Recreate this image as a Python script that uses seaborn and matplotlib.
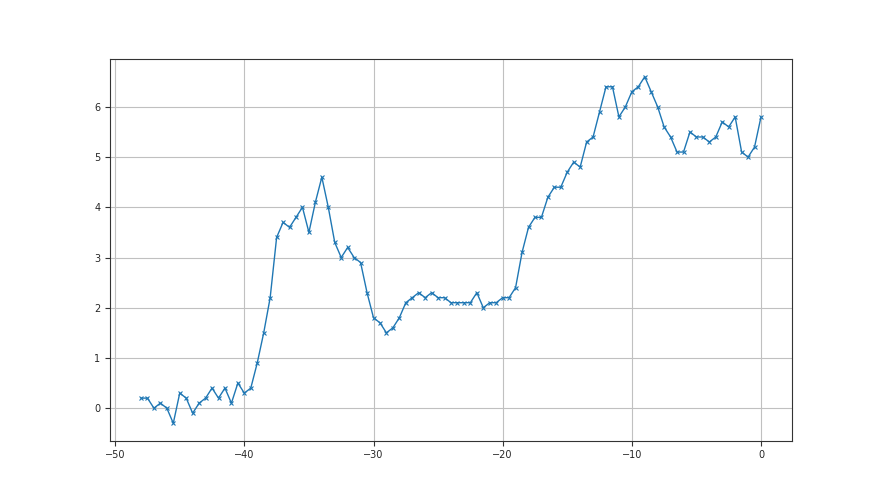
import matplotlib
matplotlib.use("Agg")
import matplotlib.pyplot as plt
import seaborn as sns
import pandas as pd

# x positions: -48 to 0 in steps of 0.5
x_vals = [-48 + 0.5 * i for i in range(97)]

y_vals = [
    0.2, 0.2, 0.0, 0.1, 0.0, -0.3, 0.3, 0.2, -0.1, 0.1,
    0.2, 0.4, 0.2, 0.4, 0.1, 0.5, 0.3, 0.4, 0.9, 1.5,
    2.2, 3.4, 3.7, 3.6, 3.8, 4.0, 3.5, 4.1, 4.6, 4.0,
    3.3, 3.0, 3.2, 3.0, 2.9, 2.3, 1.8, 1.7, 1.5, 1.6,
    1.8, 2.1, 2.2, 2.3, 2.2, 2.3, 2.2, 2.2, 2.1, 2.1,
    2.1, 2.1, 2.3, 2.0, 2.1, 2.1, 2.2, 2.2, 2.4, 3.1,
    3.6, 3.8, 3.8, 4.2, 4.4, 4.4, 4.7, 4.9, 4.8, 5.3,
    5.4, 5.9, 6.4, 6.4, 5.8, 6.0, 6.3, 6.4, 6.6, 6.3,
    6.0, 5.6, 5.4, 5.1, 5.1, 5.5, 5.4, 5.4, 5.3, 5.4,
    5.7, 5.6, 5.8, 5.1, 5.0, 5.2, 5.8,
]

df = pd.DataFrame({"x": x_vals, "y": y_vals})

sns.set_style("white")
plt.rcParams['font.family'] = ['DejaVu Sans']

fig, ax = plt.subplots(figsize=(8.8, 4.95), dpi=100)
fig.subplots_adjust(left=0.125, right=0.9, top=0.88, bottom=0.11)

sns.lineplot(data=df, x="x", y="y", marker="x", markersize=3.5,
             markeredgewidth=0.8, markeredgecolor="#1f77b4",
             color="#1f77b4", linewidth=1.0, ax=ax)

ax.grid(True, color="#c0c0c0", linewidth=0.8)
ax.set_xlabel("")
ax.set_ylabel("")
ax.tick_params(axis="both", labelsize=7, length=3.5, width=0.8,
               color="#333333", bottom=True, left=True)
for s in ax.spines.values():
    s.set_color("#333333")
    s.set_linewidth(0.8)

fig.savefig("out.png", dpi=100)
